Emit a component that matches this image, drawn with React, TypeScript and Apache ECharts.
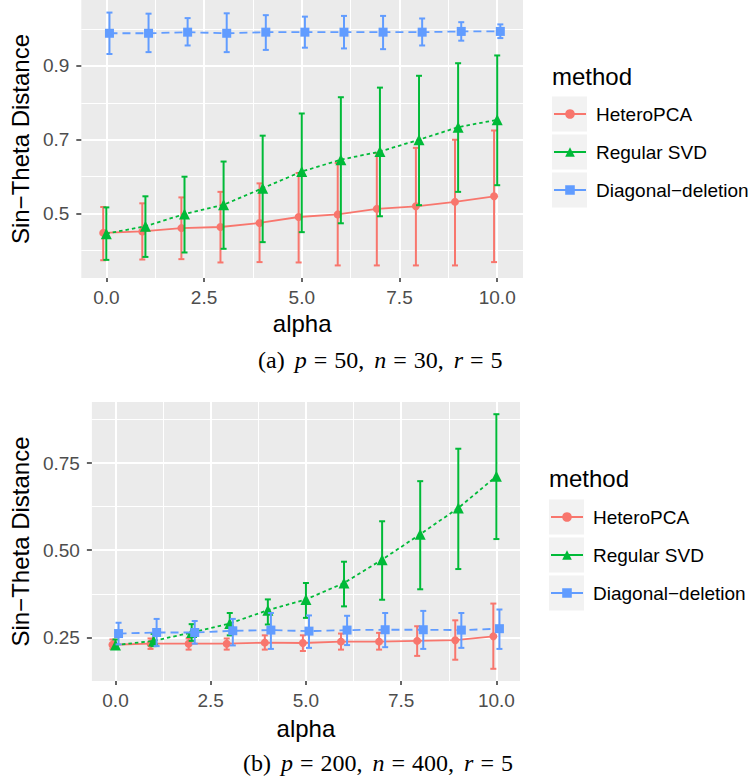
import React, { useEffect, useRef } from "react";
import * as echarts from "echarts";

const methods = ["HeteroPCA", "Regular SVD", "Diagonal−deletion"];
const colors = ["#F8766D", "#00BA38", "#619CFF"];
const alpha = [0, 1, 2, 3, 4, 5, 6, 7, 8, 9, 10];

const xTicks = [0, 2.5, 5, 7.5, 10];
const xMinor = [1.25, 3.75, 6.25, 8.75];
const yTicksA = [0.5, 0.7, 0.9];
const yMinorA = [0.4, 0.6, 0.8, 1.0];
const yTicksB = [0.25, 0.5, 0.75];
const yMinorB = [0.375, 0.625, 0.875];

// Panel (a): p=50, n=30, r=5
const aHeteroMean = [0.448, 0.452, 0.461, 0.464, 0.475, 0.491, 0.498, 0.513, 0.52, 0.532, 0.547];
const aHeteroLow = [0.374, 0.376, 0.377, 0.368, 0.369, 0.368, 0.36, 0.36, 0.36, 0.36, 0.369];
const aHeteroHigh = [0.518, 0.528, 0.544, 0.559, 0.582, 0.61, 0.637, 0.664, 0.678, 0.7, 0.725];
const aSvdMean = [0.446, 0.466, 0.499, 0.524, 0.569, 0.614, 0.646, 0.668, 0.7, 0.734, 0.754];
const aSvdLow = [0.375, 0.383, 0.395, 0.405, 0.423, 0.45, 0.474, 0.493, 0.523, 0.559, 0.577];
const aSvdHigh = [0.517, 0.547, 0.6, 0.641, 0.711, 0.771, 0.815, 0.841, 0.873, 0.907, 0.928];
const aDiagMean = [0.988, 0.988, 0.991, 0.988, 0.991, 0.991, 0.991, 0.991, 0.991, 0.993, 0.993];
const aDiagLow = [0.932, 0.937, 0.955, 0.937, 0.943, 0.949, 0.947, 0.945, 0.955, 0.968, 0.975];
const aDiagHigh = [1.044, 1.041, 1.029, 1.042, 1.037, 1.033, 1.035, 1.035, 1.028, 1.018, 1.012];

// Panel (b): p=200, n=400, r=5
const bHeteroMean = [0.229, 0.232, 0.232, 0.232, 0.235, 0.234, 0.238, 0.238, 0.24, 0.242, 0.253];
const bHeteroLow = [0.217, 0.217, 0.215, 0.215, 0.215, 0.211, 0.215, 0.215, 0.197, 0.186, 0.16];
const bHeteroHigh = [0.244, 0.247, 0.247, 0.247, 0.256, 0.256, 0.261, 0.263, 0.282, 0.299, 0.347];
const bSvdMean = [0.228, 0.24, 0.264, 0.29, 0.328, 0.359, 0.406, 0.473, 0.546, 0.621, 0.712];
const bSvdLow = [0.218, 0.225, 0.24, 0.256, 0.287, 0.306, 0.339, 0.358, 0.388, 0.446, 0.532];
const bSvdHigh = [0.244, 0.26, 0.288, 0.32, 0.359, 0.406, 0.467, 0.583, 0.698, 0.791, 0.89];
const bDiagMean = [0.261, 0.264, 0.264, 0.269, 0.271, 0.268, 0.271, 0.272, 0.272, 0.271, 0.275];
const bDiagLow = [0.23, 0.225, 0.232, 0.227, 0.217, 0.22, 0.228, 0.222, 0.217, 0.22, 0.217];
const bDiagHigh = [0.292, 0.303, 0.297, 0.303, 0.32, 0.313, 0.312, 0.32, 0.326, 0.32, 0.33];

const SANS = "'Liberation Sans', Arial, Helvetica, sans-serif";
const SERIF = "'Liberation Serif', 'Times New Roman', serif";

const dodge = [-0.08, 0, 0.08];
const symbols = ["circle", "triangle", "rect"];
const symbolSizes = [8, 11, 9];
const lineTypes: any[] = ["solid", [3.5, 3], [8, 5]];

function panelSeries(xIdx: number, yIdx: number, sets: number[][][]) {
  const out: any[] = [];
  sets.forEach(([mean, low, high], m) => {
    const color = colors[m];
    out.push({
      type: "custom",
      name: methods[m] + " error",
      xAxisIndex: xIdx,
      yAxisIndex: yIdx,
      data: alpha.map((a, i) => [a + dodge[m], low[i], high[i]]),
      encode: { x: 0, y: [1, 2] },
      z: 2 + m * 2,
      renderItem: (params: any, api: any) => {
        const x = api.value(0);
        const lo = api.coord([x, api.value(1)]);
        const hi = api.coord([x, api.value(2)]);
        const hw = 3;
        const st = { stroke: color, lineWidth: 2 };
        return {
          type: "group",
          children: [
            { type: "line", shape: { x1: hi[0], y1: hi[1], x2: lo[0], y2: lo[1] }, style: st },
            { type: "line", shape: { x1: hi[0] - hw, y1: hi[1], x2: hi[0] + hw, y2: hi[1] }, style: st },
            { type: "line", shape: { x1: lo[0] - hw, y1: lo[1], x2: lo[0] + hw, y2: lo[1] }, style: st },
          ],
        };
      },
    });
    out.push({
      type: "line",
      name: methods[m],
      xAxisIndex: xIdx,
      yAxisIndex: yIdx,
      data: alpha.map((a, i) => [a + dodge[m], mean[i]]),
      symbol: symbols[m],
      symbolSize: symbolSizes[m],
      showSymbol: true,
      z: 3 + m * 2,
      lineStyle: { color, width: 1.8, type: lineTypes[m] },
      itemStyle: { color, borderWidth: 0 },
    });
  });
  return out;
}

function xAxes(gridIndex: number, min: number, max: number, labelMargin: number, nameGap: number) {
  return [
    {
      type: "value",
      gridIndex,
      min,
      max,
      position: "bottom",
      name: "alpha",
      nameLocation: "middle",
      nameGap,
      nameTextStyle: { fontSize: 24, color: "#000", fontFamily: SANS },
      axisLine: { show: false, onZero: false },
      axisTick: { show: true, customValues: xTicks, length: 4, lineStyle: { color: "#333333", width: 1.5 } },
      axisLabel: {
        customValues: xTicks,
        formatter: (v: number) => v.toFixed(1),
        fontSize: 19,
        color: "#4D4D4D",
        margin: labelMargin,
        fontFamily: SANS,
      },
      splitLine: { show: true, lineStyle: { color: "#FFFFFF", width: 2 } },
    },
    {
      type: "value",
      gridIndex,
      min,
      max,
      position: "bottom",
      axisLine: { show: false, onZero: false },
      axisTick: { show: false, customValues: xMinor },
      axisLabel: { show: false, customValues: xMinor },
      splitLine: { show: true, lineStyle: { color: "#FFFFFF", width: 1 } },
    },
  ];
}

function yAxes(gridIndex: number, min: number, max: number, ticks: number[], minor: number[], digits: number, nameGap: number) {
  return [
    {
      type: "value",
      gridIndex,
      min,
      max,
      position: "left",
      name: "Sin−Theta Distance",
      nameLocation: "middle",
      nameGap,
      nameTextStyle: { fontSize: 24, color: "#000", fontFamily: SANS },
      axisLine: { show: false, onZero: false },
      axisTick: { show: true, customValues: ticks, length: 5, lineStyle: { color: "#333333", width: 1.5 } },
      axisLabel: {
        customValues: ticks,
        formatter: (v: number) => v.toFixed(digits),
        fontSize: 19,
        color: "#4D4D4D",
        margin: 12,
        fontFamily: SANS,
      },
      splitLine: { show: true, lineStyle: { color: "#FFFFFF", width: 2 } },
    },
    {
      type: "value",
      gridIndex,
      min,
      max,
      position: "left",
      axisLine: { show: false, onZero: false },
      axisTick: { show: false, customValues: minor },
      axisLabel: { show: false, customValues: minor },
      splitLine: { show: true, lineStyle: { color: "#FFFFFF", width: 1 } },
    },
  ];
}

function legendFor(left: number, top: number) {
  return {
    orient: "vertical",
    left,
    top,
    padding: 0,
    itemWidth: 32,
    itemHeight: 12,
    itemGap: 14,
    selectedMode: false,
    data: methods,
    lineStyle: { type: "solid", width: 2 },
    textStyle: { fontSize: 19, color: "#000", fontFamily: SANS, lineHeight: 24, padding: [0, 0, 0, 5] },
  };
}

function legendGraphics(boxLeft: number, titleY: number, centers: number[]) {
  const g: any[] = [
    {
      type: "text",
      left: boxLeft,
      top: titleY - 14,
      style: { text: "method", font: `24px ${SANS}`, fill: "#000" },
    },
  ];
  centers.forEach((c) => {
    g.push({
      type: "rect",
      shape: { x: boxLeft, y: c - 17.5, width: 35, height: 35 },
      style: { fill: "#F2F2F2" },
      z: -1,
    });
  });
  return g;
}

function caption(x: number, y: number, tag: string, p: string, n: string) {
  return {
    type: "text",
    x,
    y,
    style: {
      text: `{u|${tag}}{s| }{i|p}{e|=}{u|${p},}{s| }{i|n}{e|=}{u|${n},}{s| }{i|r}{e|=}{u|5}`,
      verticalAlign: "middle",
      rich: {
        u: { fontFamily: SERIF, fontSize: 24, fill: "#000" },
        i: { fontFamily: SERIF, fontSize: 24, fontStyle: "italic", fill: "#000" },
        e: { fontFamily: SERIF, fontSize: 24, fill: "#000", padding: [0, 7, 0, 7] },
        s: { fontFamily: SERIF, fontSize: 24, fill: "#000", padding: [0, 2, 0, 2] },
      },
    },
  };
}

export default function App() {
  const ref = useRef<HTMLDivElement>(null);
  useEffect(() => {
    if (!ref.current) return;
    const chart = echarts.init(ref.current, undefined, { renderer: "svg" });
    const option: any = {
      animation: false,
      backgroundColor: "#FFFFFF",
      textStyle: { fontFamily: SANS },
      grid: [
        { left: 80, top: 0, width: 443, height: 278, show: true, backgroundColor: "#EBEBEB", borderWidth: 0 },
        { left: 86, top: 402, width: 434, height: 279, show: true, backgroundColor: "#EBEBEB", borderWidth: 0 },
      ],
      xAxis: [...xAxes(0, -0.64, 10.66, 10, 33), ...xAxes(1, -0.62, 10.62, 10, 35)],
      yAxis: [
        ...yAxes(0, 0.326, 1.078, yTicksA, yMinorA, 1, 46),
        ...yAxes(1, 0.125, 0.925, yTicksB, yMinorB, 2, 56),
      ],
      legend: [legendFor(553, 102), legendFor(550, 505)],
      series: [
        ...panelSeries(0, 0, [
          [aHeteroMean, aHeteroLow, aHeteroHigh],
          [aSvdMean, aSvdLow, aSvdHigh],
          [aDiagMean, aDiagLow, aDiagHigh],
        ]),
        ...panelSeries(2, 2, [
          [bHeteroMean, bHeteroLow, bHeteroHigh],
          [bSvdMean, bSvdLow, bSvdHigh],
          [bDiagMean, bDiagLow, bDiagHigh],
        ]),
      ],
      graphic: [
        ...legendGraphics(552, 78, [114, 152, 190]),
        ...legendGraphics(549, 480, [517, 555, 593]),
        caption(258, 360, "(a)", "50", "30"),
        caption(243, 763, "(b)", "200", "400"),
      ],
    };
    chart.setOption(option);
    return () => chart.dispose();
  }, []);
  return (
    <div
      ref={ref}
      style={{ position: "fixed", left: 0, top: 0, width: 753, height: 780 }}
    />
  );
}
